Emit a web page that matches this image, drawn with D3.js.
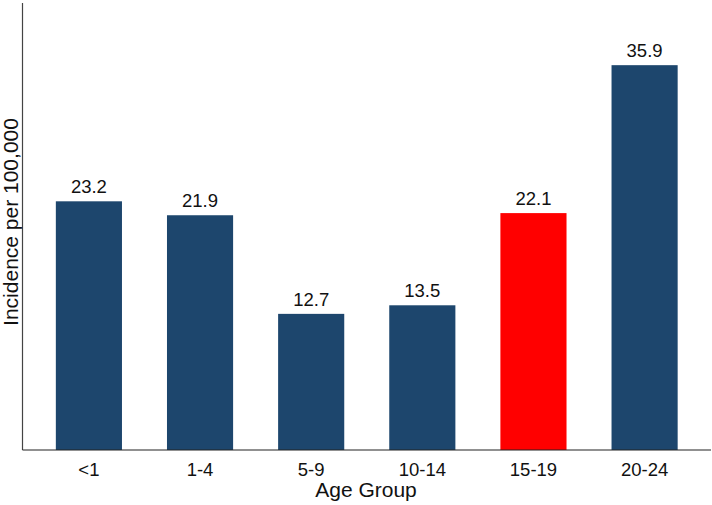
<!DOCTYPE html>
<html><head><meta charset="utf-8">
<script src="https://cdn.jsdelivr.net/npm/d3@7"></script>
<style>body{margin:0;background:#fff;}svg{display:block;font-family:"Liberation Sans",Arial,sans-serif;}</style>
</head><body><svg id="c" width="712" height="505"></svg>
<script>
const categories = ["<1","1-4","5-9","10-14","15-19","20-24"];
const values = [23.2,21.9,12.7,13.5,22.1,35.9];
const highlight = ["15-19"];

const svg = d3.select("#c");
const x0 = 22.5, x1 = 711, yTop = 3, yBot = 450;
const x = d3.scaleBand().domain(categories).range([x0, x1]).paddingInner(0.405).paddingOuter(0.30);
const y = d3.scaleLinear().domain([0, 41.7]).range([yBot, yTop]);

svg.selectAll("rect.bar").data(categories).join("rect")
  .attr("x", d => x(d)).attr("width", x.bandwidth())
  .attr("y", (d,i) => y(values[i])).attr("height", (d,i) => yBot - y(values[i]))
  .attr("fill", d => highlight.includes(d) ? "#ff0000" : "#1d466d");

svg.selectAll("text.val").data(categories).join("text")
  .attr("x", d => x(d) + x.bandwidth()/2).attr("y", (d,i) => y(values[i]) - 8)
  .attr("text-anchor","middle").attr("font-size", 18.5).attr("fill","#111")
  .text((d,i) => values[i].toFixed(1));

const xa = svg.append("g").attr("transform", `translate(0,${yBot})`)
  .call(d3.axisBottom(x).tickSize(0).tickPadding(13));
xa.select(".domain").remove();
xa.selectAll("text").attr("font-size", 18.5).attr("fill","#111").attr("font-family","Liberation Sans, Arial, sans-serif");

svg.append("line").attr("x1", x0).attr("x2", x0).attr("y1", yTop).attr("y2", yBot).attr("stroke","#444").attr("stroke-width",1.2);
svg.append("line").attr("x1", x0).attr("x2", x1).attr("y1", yBot).attr("y2", yBot).attr("stroke","#222").attr("stroke-width",1.2);

svg.append("text").attr("x", 366).attr("y", 497).attr("text-anchor","middle").attr("font-size",21).attr("fill","#111").text("Age Group");
svg.append("text").attr("transform", `translate(18,222) rotate(-90)`).attr("text-anchor","middle").attr("font-size",21).attr("fill","#111").text("Incidence per 100,000");
</script></body></html>
